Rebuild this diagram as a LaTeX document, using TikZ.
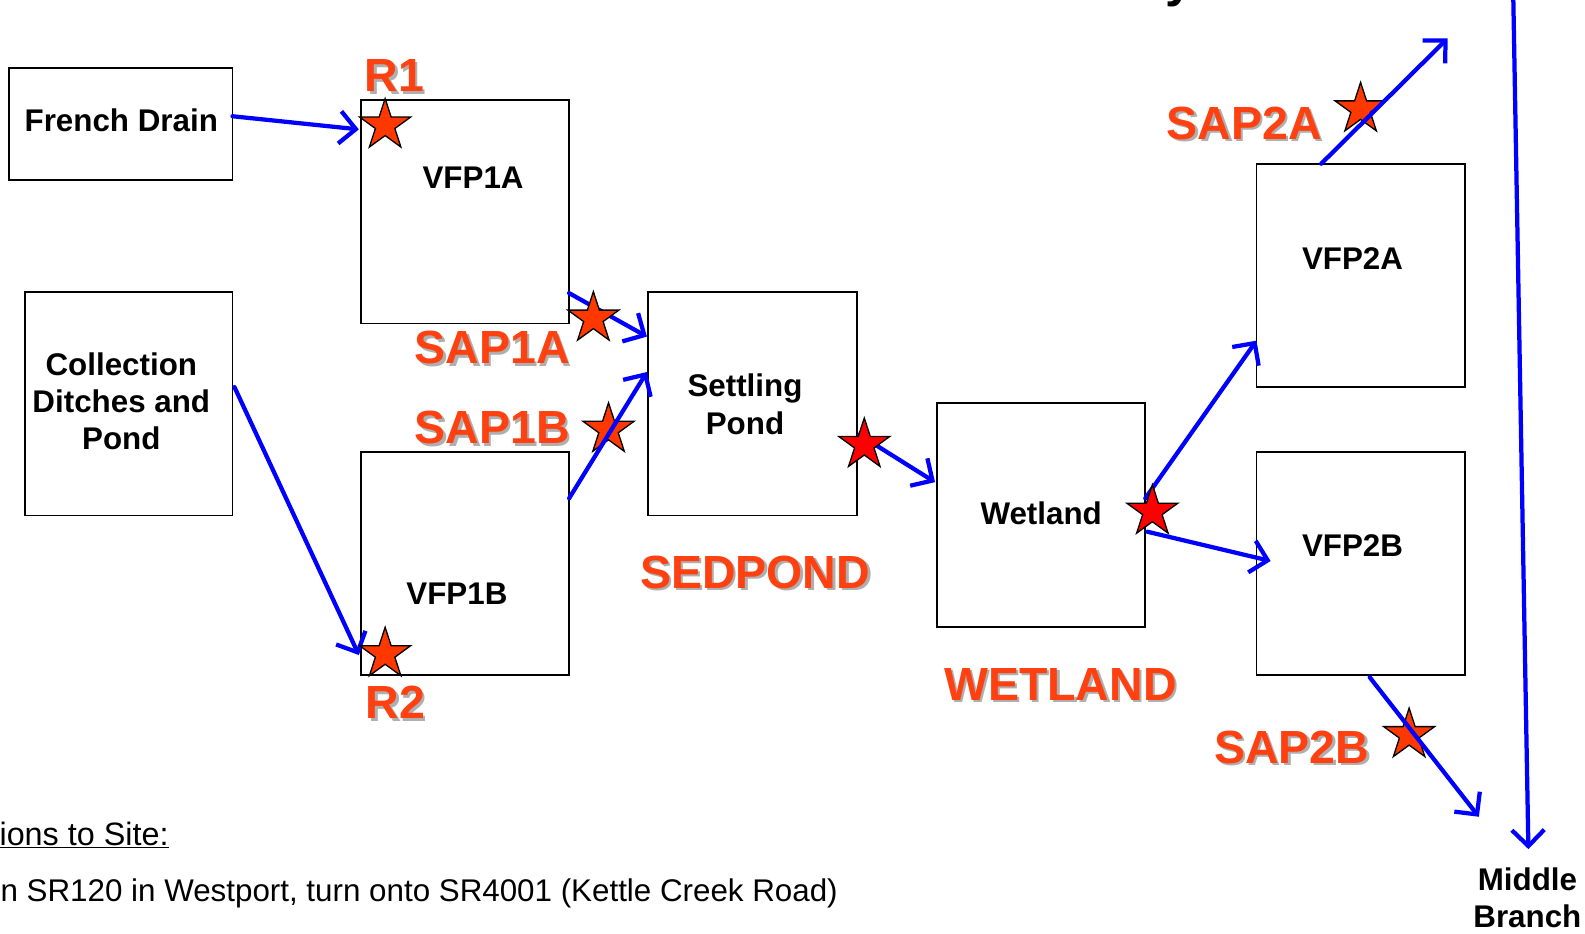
\documentclass[tikz,border=0pt]{standalone}
\usepackage{fontspec}
\setmainfont{Liberation Sans}
\usetikzlibrary{shapes.geometric,arrows.meta,calc}
\definecolor{flowblue}{RGB}{0,0,255}
\definecolor{labred}{RGB}{255,64,16}
\definecolor{starorange}{RGB}{255,56,0}
\definecolor{shadowgray}{RGB}{175,175,175}
\tikzset{
 box/.style={draw=black, line width=1.8pt, minimum width=206pt, minimum height=221pt, inner sep=0pt, outer sep=0pt, anchor=north west},
 boxtext/.style={font=\bfseries\fontsize{31}{37}\selectfont, align=center, inner sep=0pt},
 flow/.style={draw=flowblue, line width=4.2pt, line cap=round, -{Straight Barb[length=16pt,width=32pt]}},
 sitestar/.style={star, star points=5, star point ratio=2.618, draw=black, line width=1.3pt, fill=starorange, minimum size=53pt, inner sep=0pt},
 redstar/.style={sitestar, fill=red},
 lbl/.style={font=\bfseries\fontsize{46}{50}\selectfont, text=labred, inner sep=0pt},
 lblshadow/.style={lbl, text=shadowgray},
 plaintext/.style={font=\fontsize{31}{37}\selectfont, inner sep=0pt},
}
\newcommand\ShadowLabel[3]{%
 \node[lblshadow] (#1s) at ($(#2)+(2.5,2.5)$) {#3};
 \node[lbl] (#1) at (#2) {#3};}
\begin{document}
\begin{tikzpicture}[x=1pt,y=-1pt]
\useasboundingbox (0,0) rectangle (1568,923);
\fill[white] (0,0) rectangle (1568,923);
% boxes
\node[box, minimum width=221pt, minimum height=111pt] (fd) at (9,67) {};
\node[box, minimum width=205pt] (col) at (25,289) {};
\node[box] (v1a) at (357,99) {};
\node[box] (v1b) at (357,447) {};
\node[box, minimum width=207pt] (sp) at (641,289) {};
\node[box] (wet) at (927,399) {};
\node[box] (v2a) at (1243,162) {};
\node[box] (v2b) at (1243,447) {};
% box texts
\node[boxtext] (fdt) at (120,119) {French Drain};
\node[boxtext] (colt) at (120,397) {Collection\\Ditches and\\Pond};
\node[boxtext] (v1at) at (468,176) {VFP1A};
\node[boxtext] (v1bt) at (452,587) {VFP1B};
\node[boxtext] (spt) at (737,400) {Settling\\Pond};
\node[boxtext] (wett) at (1030,508) {Wetland};
\node[boxtext] (v2at) at (1338,256) {VFP2A};
\node[boxtext] (v2bt) at (1338,540) {VFP2B};
\node[boxtext, anchor=north] (mb) at (1511,858) {Middle\\Branch};
\node[font=\bfseries\fontsize{50}{50}\selectfont, anchor=base west, inner sep=0pt] (ttl) at (1153,-3) {y};
\node[plaintext, font=\fontsize{32}{37}\selectfont, anchor=base east] (dir) at (167,836) {\underline{Directions to Site:}};
\node[plaintext, anchor=base east] (route) at (829,892) {On SR120 in Westport, turn onto SR4001 (Kettle Creek Road)};
% arrows under stars
\draw[flow] ($(fd.east)+(0,-7.5)$) -- ($(v1a.north west)+(-2,29)$);
\draw[flow] ($(col.east)+(2,-16.5)$) -- ($(v1b.south west)+(-2,-20)$);
\draw[flow] ($(v1a.south east)+(0,-30)$) -- ($(sp.north west)+(-1,44)$);
\draw[flow] ($(sp.north east)+(2,141)$) -- ($(wet.north west)+(-2,78)$);
\draw[flow] ($(wet.north east)+(0,94)$) -- ($(v2a.north west)+(0,175)$);
\draw[flow] ($(wet.north east)+(2,127)$) -- ($(v2b.north west)+(14,108)$);
\coordinate (src) at (1497,-5);
\draw[flow] (src) -- ($(mb.north)+(1,-18)$);
% stars
\node[sitestar] (sr1) at (381,124) {};
\node[sitestar] (sr2) at (381,647) {};
\node[sitestar] (ss1a) at (587,315) {};
\node[sitestar] (ss1b) at (602,425) {};
\node[redstar] (ssed) at (855,440) {};
\node[redstar] (swet) at (1140,506) {};
\node[sitestar] (ss2a) at (1346,108) {};
\node[sitestar] (ss2b) at (1394,727) {};
% arrows over stars
\draw[flow] ($(v1b.north east)+(0,46)$) -- ($(sp.north west)+(-1,79)$);
\draw[flow] ($(v2a.north west)+(64,0)$) -- ($(v2a.north west)+(189,-124)$);
\draw[flow] ($(v2b.south west)+(112,2)$) -- ($(v2b.south west)+(220,140)$);
% labels
\ShadowLabel{lr1}{390,75}{R1}
\ShadowLabel{lr2}{391,695}{R2}
\ShadowLabel{lsap1a}{487,344}{SAP1A}
\ShadowLabel{lsap1b}{487,423}{SAP1B}
\ShadowLabel{lsed}{747,566}{SEDPOND}
\ShadowLabel{lwet}{1049,677}{WETLAND}
\ShadowLabel{lsap2a}{1231,122}{SAP2A}
\ShadowLabel{lsap2b}{1278,739}{SAP2B}
\end{tikzpicture}
\end{document}
